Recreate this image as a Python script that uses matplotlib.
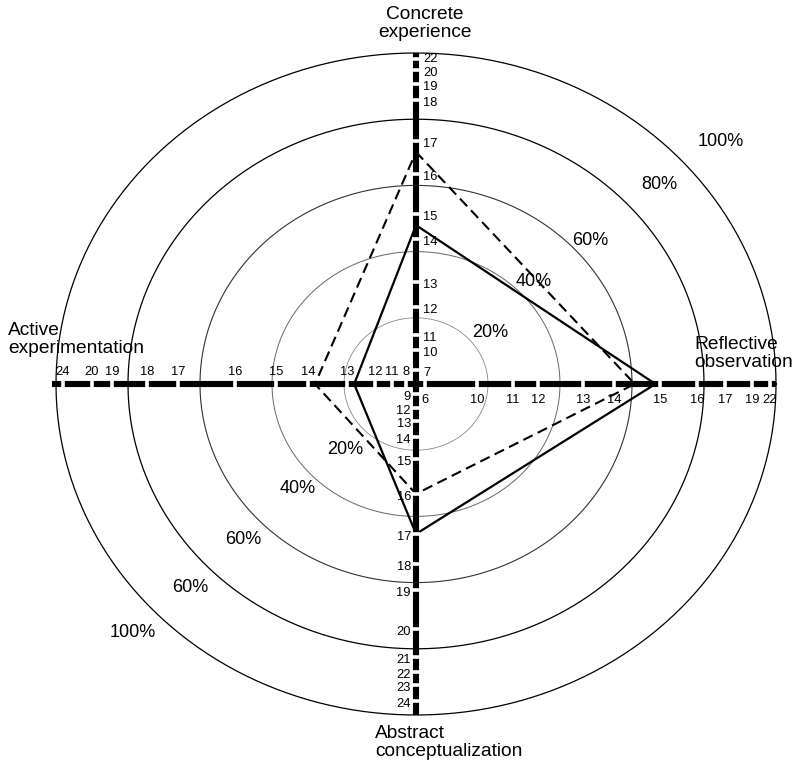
import numpy as np
import matplotlib
matplotlib.use("Agg")
import matplotlib.pyplot as plt

plt.rcParams['font.family'] = ['Liberation Sans', 'DejaVu Sans']

# ---- norm scales: raw score -> percentile position along each axis ----
ce_scores = [7, 10, 11, 12, 13, 14, 15, 16, 17, 18, 19, 20, 22]
ce_pct = [4.2, 10.3, 14.8, 23.3, 30.8, 43.8, 51.4, 63.4, 73.4, 85.8, 90.6, 94.9, 98.2]

ro_scores = [6, 10, 11, 12, 13, 14, 15, 16, 17, 19, 22]
ro_pct = [2.5, 16.9, 26.9, 33.9, 46.4, 55.0, 67.8, 78.1, 85.8, 93.3, 98.3]

ac_scores = [9, 12, 13, 14, 15, 16, 17, 18, 19, 20, 21, 22, 23, 24]
ac_pct = [3.0, 7.3, 11.2, 16.0, 22.7, 33.2, 45.3, 54.4, 62.2, 74.0, 82.5, 87.0, 90.9, 95.8]

ae_scores = [8, 11, 12, 13, 14, 15, 16, 17, 18, 19, 20, 24]
ae_pct = [2.8, 6.7, 11.4, 19.2, 30.0, 38.9, 50.3, 66.1, 74.7, 84.4, 90.0, 98.1]

# ---- percentile rings ----
ring_levels = [20, 40, 60, 80, 100]
ring_labels_ur = ["20%", "40%", "60%", "80%", "100%"]
ring_labels_ll = ["20%", "40%", "60%", "60%", "100%"]

# ---- learning-style profiles (raw scores: CE, RO, AC, AE) ----
profile_solid = [14.55, 14.9, 17.0, 12.74]
profile_dashed = [16.67, 14.45, 16.0, 13.82]

axis_titles = ["Concrete\nexperience", "Reflective\nobservation",
               "Abstract\nconceptualization", "Active\nexperimentation"]

# ---------------------------------------------------------------
W, H = 800, 767
cx, cy = 416, 384
sx, sy = 3.6, 3.31  # pixels per percentile unit

fig = plt.figure(figsize=(W / 100, H / 100), dpi=100)
ax = fig.add_axes([0, 0, 1, 1])
ax.set_xlim(-cx / sx, (W - cx) / sx)
ax.set_ylim(-(H - cy) / sy, cy / sy)
ax.axis('off')

# rings
t = np.linspace(0, 2 * np.pi, 400)
ring_styles = {20: ('#888888', 0.6), 40: ('#666666', 0.7), 60: ('#333333', 0.8),
               80: ('black', 0.9), 100: ('black', 0.9)}
for r in ring_levels:
    c, lw = ring_styles[r]
    ax.plot(r * np.cos(t), r * np.sin(t), color=c, lw=lw, zorder=1)

# ring labels
ur_pos = [(20.6, 15.7), (32.8, 31.1), (48.3, 43.5), (67.5, 60.4), (84.7, 73.4)]
ll_pos = [(-19.7, -19.9), (-32.8, -31.7), (-48.1, -47.1), (-62.6, -61.6), (-78.6, -75.2)]
rfs = 13
for (x, y), s in zip(ur_pos, ring_labels_ur):
    ax.text(x, y, s, fontsize=rfs, ha='center', va='center', zorder=5)
for (x, y), s in zip(ll_pos, ring_labels_ll):
    ax.text(x, y, s, fontsize=rfs, ha='center', va='center', zorder=5)


def to_xy(p):
    ce = np.interp(p[0], ce_scores, ce_pct)
    ro = np.interp(p[1], ro_scores, ro_pct)
    ac = np.interp(p[2], ac_scores, ac_pct)
    ae = np.interp(p[3], ae_scores, ae_pct)
    xs = [0, ro, 0, -ae, 0]
    ys = [ce, 0, -ac, 0, ce]
    return xs, ys


xs, ys = to_xy(profile_solid)
ax.plot(xs, ys, color='black', lw=1.6, zorder=3, solid_joinstyle='miter')
xs, ys = to_xy(profile_dashed)
ax.plot(xs, ys, color='black', lw=1.5, ls=(0, (5, 2.7)), zorder=3)

# thick axes
axis_lw = 4.4
ax.plot([-101, 100], [0, 0], color='black', lw=axis_lw, solid_capstyle='butt', zorder=4)
ax.plot([0, 0], [-100, 100], color='black', lw=axis_lw, solid_capstyle='butt', zorder=4)

# gaps at ticks
gap_kw = dict(ls='none', color='white', mew=2.6, ms=5.5, zorder=4.5)
ax.plot(ro_pct, np.zeros(len(ro_pct)), marker='|', **gap_kw)
ax.plot(-np.array(ae_pct), np.zeros(len(ae_pct)), marker='|', **gap_kw)
ax.plot(np.zeros(len(ce_pct)), ce_pct, marker='_', **gap_kw)
ax.plot(np.zeros(len(ac_pct)), -np.array(ac_pct), marker='_', **gap_kw)

# tick labels
tfs = 9.3
for s, p in zip(ce_scores, ce_pct):
    off = 0.1 if s == 22 else -1.0
    ax.text(2.0, p + off, str(s), fontsize=tfs, ha='left', va='center', zorder=5)
for s, p in zip(ro_scores, ro_pct):
    ax.text(p, -4.8, str(s), fontsize=tfs, ha='center', va='center', zorder=5)
for s, p in zip(ac_scores, ac_pct):
    ax.text(-1.4, -p - 1.0, str(s), fontsize=tfs, ha='right', va='center', zorder=5)
for s, p in zip(ae_scores, ae_pct):
    ax.text(-p, 3.5, str(s), fontsize=tfs, ha='center', va='center', zorder=5)

# axis titles
tf = 13.8
ls = 1.08
ax.text(2.5, 114.3, axis_titles[0], fontsize=tf, ha='center', va='top', linespacing=ls)
ax.text(77.2, 14.4, axis_titles[1], fontsize=tf, ha='left', va='top', linespacing=ls)
ax.text(-11.4, -103.0, axis_titles[2], fontsize=tf, ha='left', va='top', linespacing=ls)
ax.text(-113.3, 18.6, axis_titles[3], fontsize=tf, ha='left', va='top', linespacing=ls)

fig.savefig("out.png", dpi=100, facecolor='white')
